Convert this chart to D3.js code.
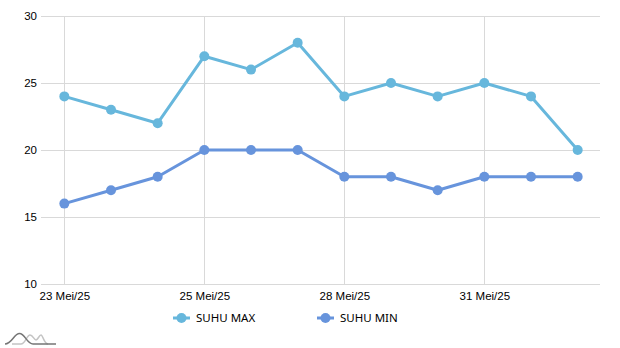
<!DOCTYPE html>
<html>
<head>
<meta charset="utf-8">
<script src="https://cdn.jsdelivr.net/npm/d3@7"></script>
<style>
  html, body { margin: 0; padding: 0; background: #fff; }
  svg { display: block; font-family: "Noto Sans", "Open Sans", sans-serif; }
</style>
</head>
<body>
<svg id="chart" width="620" height="348"></svg>
<script>
// Daily temperature readings
const categories = ["23 Mei/25", "d2", "d3", "25 Mei/25", "d5", "d6", "28 Mei/25", "d8", "d9", "31 Mei/25", "d11", "d12"];
const suhuMax = [24, 23, 22, 27, 26, 28, 24, 25, 24, 25, 24, 20];
const suhuMin = [16, 17, 18, 20, 20, 20, 18, 18, 17, 18, 18, 18];
const xTickLabels = ["23 Mei/25", "25 Mei/25", "28 Mei/25", "31 Mei/25"];
const yTicks = [10, 15, 20, 25, 30];

const series = [
  { name: "SUHU MAX", values: suhuMax, color: "#67b7dc" },
  { name: "SUHU MIN", values: suhuMin, color: "#6794dc" }
];

const svg = d3.select("#chart");
const plot = { left: 41, right: 601, top: 16, bottom: 284 };

const x = d3.scalePoint().domain(categories).range([plot.left, plot.right]).padding(0.5);
const y = d3.scaleLinear().domain([10, 30]).range([plot.bottom, plot.top]);

// horizontal grid + y labels
const yAxis = d3.axisLeft(y).tickValues(yTicks).tickSize(0).tickPadding(4);
const yg = svg.append("g").attr("transform", `translate(${plot.left},0)`).call(yAxis);
yg.select(".domain").remove();
yg.selectAll("text").attr("font-size", 11.5).attr("fill", "#000");
svg.append("g").selectAll("line").data(yTicks).join("line")
  .attr("x1", plot.left).attr("x2", plot.right - 1)
  .attr("y1", d => y(d) + 0.5).attr("y2", d => y(d) + 0.5)
  .attr("stroke", "#d9d9d9").attr("stroke-width", 1);

// vertical grid + x labels
const xAxis = d3.axisBottom(x).tickValues(xTickLabels).tickSize(0).tickPadding(8);
const xg = svg.append("g").attr("transform", `translate(0,${plot.bottom})`).call(xAxis);
xg.select(".domain").remove();
xg.selectAll("text").attr("font-size", 11.5).attr("fill", "#000");
svg.append("g").selectAll("line").data(xTickLabels).join("line")
  .attr("x1", d => Math.round(x(d)) + 0.5).attr("x2", d => Math.round(x(d)) + 0.5)
  .attr("y1", plot.top).attr("y2", plot.bottom)
  .attr("stroke", "#d9d9d9").attr("stroke-width", 1);

// lines and markers
const line = d3.line().x((d, i) => x(categories[i])).y(d => y(d));
series.forEach(s => {
  svg.append("path").datum(s.values)
    .attr("d", line).attr("fill", "none")
    .attr("stroke", s.color).attr("stroke-width", 3).attr("stroke-linejoin", "round");
  svg.append("g").selectAll("circle").data(s.values).join("circle")
    .attr("cx", (d, i) => x(categories[i])).attr("cy", d => y(d))
    .attr("r", 5).attr("fill", s.color);
});

// legend
const legend = svg.append("g").attr("transform", "translate(173,318)");
series.forEach((s, i) => {
  const g = legend.append("g").attr("transform", `translate(${i * 144},0)`);
  g.append("line").attr("x1", 0).attr("x2", 17).attr("y1", 0).attr("y2", 0)
    .attr("stroke", s.color).attr("stroke-width", 3);
  g.append("circle").attr("cx", 8.5).attr("cy", 0).attr("r", 5).attr("fill", s.color);
  g.append("text").attr("x", 23).attr("y", 0).attr("dy", "0.35em")
    .attr("font-size", 11.5).attr("fill", "#000").text(s.name);
});

// small logo mark
const logo = svg.append("g");
logo.append("path")
  .attr("d", "M12,344 L21,344 C25,344 27,335 30,335 C33,335 34,340 36,340 C38,340 39,335 41,335 C43,335 44,344 48,344")
  .attr("fill", "none").attr("stroke", "#c4c4c4").attr("stroke-width", 1.5);
logo.append("path")
  .attr("d", "M5,344 C12,344 14,333.5 19.5,333.5 C25,333.5 27,344 33,344 L56,344")
  .attr("fill", "none").attr("stroke", "#767676").attr("stroke-width", 1.5);
</script>
</body>
</html>
